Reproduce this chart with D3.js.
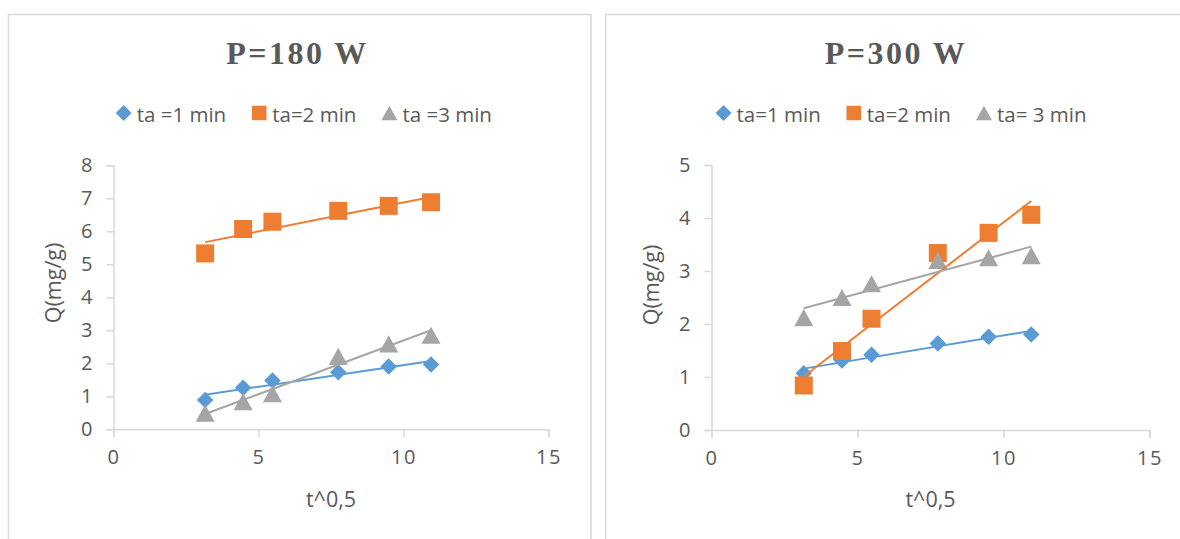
<!DOCTYPE html>
<html>
<head>
<meta charset="utf-8">
<script src="https://cdn.jsdelivr.net/npm/d3@7/dist/d3.min.js"></script>
<style>
  html, body { margin: 0; padding: 0; background: #ffffff; }
  svg { display: block; }
  text { font-family: "Open Sans", "Noto Sans", sans-serif; fill: #595959; }
</style>
</head>
<body>
<svg id="chart" width="1180" height="539"></svg>
<script>
// ---------------- data ----------------
const tValues = [3.16, 4.47, 5.48, 7.75, 9.49, 10.95];   // t^0,5

const p180_ta1 = [0.89, 1.26, 1.48, 1.73, 1.90, 1.96];
const p180_ta2 = [5.33, 6.07, 6.29, 6.62, 6.77, 6.88];
const p180_ta3 = [0.49, 0.84, 1.08, 2.21, 2.59, 2.85];

const p300_ta1 = [1.07, 1.31, 1.42, 1.63, 1.76, 1.80];
const p300_ta2 = [0.84, 1.49, 2.10, 3.34, 3.72, 4.06];
const p300_ta3 = [2.12, 2.50, 2.76, 3.20, 3.25, 3.29];

const titles = ["P=180 W", "P=300 W"];
const labels180 = ["ta =1 min", "ta=2 min", "ta =3 min"];
const labels300 = ["ta=1 min", "ta=2 min", "ta= 3 min"];
const xTicks = [0, 5, 10, 15];
const yTicks180 = [0, 1, 2, 3, 4, 5, 6, 7, 8];
const yTicks300 = [0, 1, 2, 3, 4, 5];
const xTitle = "t^0,5";
const yTitle = "Q(mg/g)";

// ---------------- styles ----------------
const colors = ["#5B9BD5", "#ED7D31", "#A5A5A5"];
// custom symbols: "size" = side length squared (bbox-centred)
const symDiamond = { draw(c, size) { const r = Math.sqrt(size) / 2; c.moveTo(0, -r); c.lineTo(r, 0); c.lineTo(0, r); c.lineTo(-r, 0); c.closePath(); } };
const symSquare = { draw(c, size) { const r = Math.sqrt(size) / 2; c.rect(-r, -r, 2 * r, 2 * r); } };
const symTriangle = { draw(c, size) { const s = Math.sqrt(size), h = s * 0.9; c.moveTo(0, -h / 2); c.lineTo(s / 2, h / 2); c.lineTo(-s / 2, h / 2); c.closePath(); } };
const shapes = [symDiamond, symSquare, symTriangle];
const markerSide = [16.5, 18, 19];
const legendSide = [16, 14.5, 16];
const gridColor = "#D9D9D9";

const svg = d3.select("#chart");

function regression(xs, ys) {
  const mx = d3.mean(xs), my = d3.mean(ys);
  let sxy = 0, sxx = 0;
  for (let i = 0; i < xs.length; i++) { sxy += (xs[i]-mx)*(ys[i]-my); sxx += (xs[i]-mx)**2; }
  const b = sxy / sxx, a = my - b*mx;
  return x => a + b*x;
}

function drawPanel(cfg) {
  const g = svg.append("g");
  g.append("rect")
    .attr("x", cfg.frame[0]).attr("y", cfg.frame[1])
    .attr("width", cfg.frame[2]).attr("height", cfg.frame[3])
    .attr("fill", "#fff").attr("stroke", gridColor).attr("stroke-width", 1.5);

  g.append("text")
    .attr("x", cfg.titleX).attr("y", 64)
    .attr("text-anchor", "middle")
    .style("font-family", "'Liberation Serif', 'Times New Roman', serif")
    .style("font-weight", "bold").style("font-size", "32px")
    .style("letter-spacing", "2.5px")
    .text(cfg.title);

  const x = d3.scaleLinear().domain([0, 15]).range([cfg.plot.left, cfg.plot.right]);
  const y = d3.scaleLinear().domain([0, d3.max(cfg.yTicks)]).range([cfg.plot.bottom, cfg.plot.top]);

  const xa = g.append("g").attr("transform", `translate(0,${cfg.plot.bottom})`)
    .call(d3.axisBottom(x).tickValues(xTicks).tickSize(8).tickPadding(13).tickFormat(d3.format("d")));
  const ya = g.append("g").attr("transform", `translate(${cfg.plot.left},0)`)
    .call(d3.axisLeft(y).tickValues(cfg.yTicks).tickSize(7).tickPadding(14).tickFormat(d3.format("d")));
  [xa, ya].forEach(a => {
    a.select(".domain").attr("stroke", gridColor).attr("stroke-width", 1.5);
    a.selectAll(".tick line").attr("stroke", gridColor).attr("stroke-width", 1.5);
    a.selectAll(".tick text").style("font-size", "20px").attr("fill", "#595959")
      .style("font-family", "'Open Sans', sans-serif");
  });
  xa.selectAll(".tick text").style("letter-spacing", "1.5px");

  g.append("text")
    .attr("x", (cfg.plot.left + cfg.plot.right) / 2).attr("y", 499).attr("dy", "0.35em")
    .attr("text-anchor", "middle").style("font-size", "21.5px").text(xTitle);
  g.append("text")
    .attr("transform", `translate(${cfg.plot.left - 60},${cfg.yTitleY}) rotate(-90)`)
    .attr("dy", "0.35em")
    .attr("text-anchor", "middle").style("font-size", "21.5px").text(yTitle);

  cfg.series.forEach((vals, i) => {
    g.append("g").selectAll("path").data(vals).join("path")
      .attr("transform", (d, j) => `translate(${x(tValues[j])},${y(d)})`)
      .attr("d", d3.symbol().type(shapes[i]).size(markerSide[i] ** 2))
      .attr("fill", colors[i]);
  });
  cfg.series.forEach((vals, i) => {
    const f = regression(tValues, vals);
    const x0 = d3.min(tValues), x1 = d3.max(tValues);
    g.append("line")
      .attr("x1", x(x0)).attr("y1", y(f(x0)))
      .attr("x2", x(x1)).attr("y2", y(f(x1)))
      .attr("stroke", colors[i]).attr("stroke-width", 2);
  });

  const lg = g.append("g").attr("transform", `translate(0,114)`);
  const items = cfg.labels.map((lab, i) => {
    const it = lg.append("g");
    it.append("path")
      .attr("d", d3.symbol().type(shapes[i]).size(legendSide[i] ** 2))
      .attr("transform", `translate(8,-1)`)
      .attr("fill", colors[i]);
    const t = it.append("text").attr("x", 21).attr("y", 7.5)
      .style("font-size", "20.5px").style("white-space", "pre").text(lab);
    return { it, w: 21 + t.node().getComputedTextLength() };
  });
  const gap = 25;
  const total = d3.sum(items, d => d.w) + gap * (items.length - 1);
  let cx = cfg.legendCenter - total / 2;
  items.forEach(d => { d.it.attr("transform", `translate(${cx},0)`); cx += d.w + gap; });
}

drawPanel({
  frame: [8.5, 14.5, 582.5, 540],
  title: titles[0], titleX: 297.5,
  plot: { left: 113.5, right: 548.5, top: 165.3, bottom: 429.3 },
  yTicks: yTicks180, yTitleY: 283,
  series: [p180_ta1, p180_ta2, p180_ta3],
  labels: labels180, legendCenter: 303.8
});
drawPanel({
  frame: [605.7, 14.5, 590, 540],
  title: titles[1], titleX: 896,
  plot: { left: 711.5, right: 1149.5, top: 165, bottom: 430 },
  yTicks: yTicks300, yTitleY: 285,
  series: [p300_ta1, p300_ta2, p300_ta3],
  labels: labels300, legendCenter: 901
});
</script>
</body>
</html>
